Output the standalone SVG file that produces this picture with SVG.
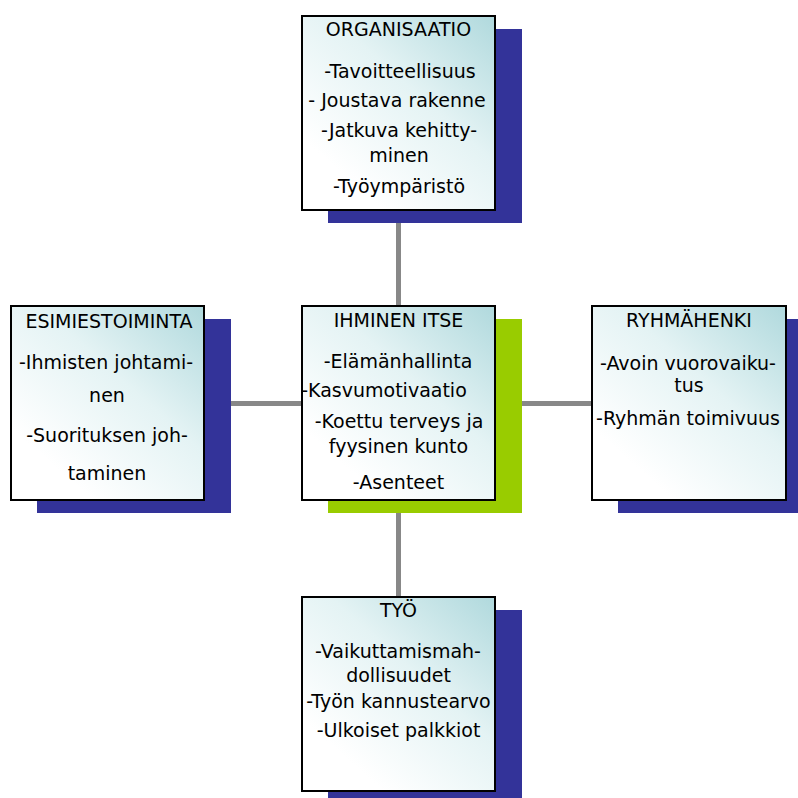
<svg xmlns="http://www.w3.org/2000/svg" width="798" height="798" viewBox="0 0 798 798">
<defs>
<linearGradient id="fillg" x1="1" y1="0" x2="0.25" y2="0.85">
<stop offset="0" stop-color="#b0d9dd"/>
<stop offset="0.5" stop-color="#e4f3f4"/>
<stop offset="1" stop-color="#ffffff"/>
</linearGradient>
</defs>
<style>
.box{fill:url(#fillg);stroke:#000;stroke-width:2}
.sh{fill:#333399}
.shg{fill:#99cc00}
.conn{stroke:#888888;stroke-width:5;fill:none}
text{font-family:"DejaVu Sans","Liberation Sans",sans-serif;font-size:19px;fill:#000;text-anchor:middle}
</style>
<rect width="798" height="798" fill="#fff"/>
<g id="connectors">
<line class="conn" x1="398.5" y1="150" x2="398.5" y2="700"/>
<line class="conn" x1="150" y1="403.5" x2="650" y2="403.5"/>
</g>
<g id="organisaatio">
<rect class="sh" x="328" y="29" width="194" height="194"/>
<rect class="box" x="302" y="16" width="193" height="194"/>
<text x="398.5" y="36">ORGANISAATIO</text>
<text x="400" y="78">-Tavoitteellisuus</text>
<text x="397" y="107">- Joustava rakenne</text>
<text x="399" y="137">-Jatkuva kehitty-</text>
<text x="399" y="162">minen</text>
<text x="399" y="193">-Työympäristö</text>
</g>
<g id="esimiestoiminta">
<rect class="sh" x="37" y="319" width="194" height="194"/>
<rect class="box" x="11" y="306" width="193" height="194"/>
<text x="109" y="328">ESIMIESTOIMINTA</text>
<text x="106" y="369">-Ihmisten johtami-</text>
<text x="107" y="402">nen</text>
<text x="107" y="442">-Suorituksen joh-</text>
<text x="107" y="480">taminen</text>
</g>
<g id="ihminen-itse">
<rect class="shg" x="328" y="319" width="194" height="194"/>
<rect class="box" x="302" y="306" width="193" height="194"/>
<text x="398.5" y="327">IHMINEN ITSE</text>
<text x="398" y="368">-Elämänhallinta</text>
<text x="384" y="397">-Kasvumotivaatio</text>
<text x="399" y="428">-Koettu terveys ja</text>
<text x="398.5" y="453">fyysinen kunto</text>
<text x="398.5" y="489">-Asenteet</text>
</g>
<g id="ryhmahenki">
<rect class="sh" x="618" y="319" width="194" height="194"/>
<rect class="box" x="592" y="306" width="194" height="194"/>
<text x="689" y="327">RYHMÄHENKI</text>
<text x="688" y="370">-Avoin vuorovaiku-</text>
<text x="689" y="392">tus</text>
<text x="688" y="425">-Ryhmän toimivuus</text>
</g>
<g id="tyo">
<rect class="sh" x="328" y="610" width="194" height="194"/>
<rect class="box" x="302" y="597" width="193" height="194"/>
<text x="398.5" y="617">TYÖ</text>
<text x="398" y="658">-Vaikuttamismah-</text>
<text x="398.5" y="682">dollisuudet</text>
<text x="398.5" y="708">-Työn kannustearvo</text>
<text x="398.5" y="737">-Ulkoiset palkkiot</text>
</g>
</svg>
